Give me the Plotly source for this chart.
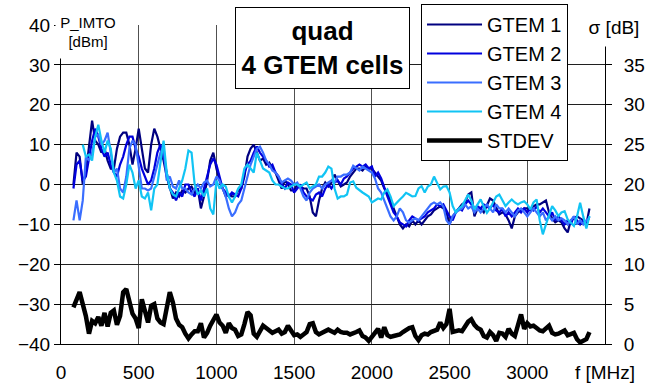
import plotly.graph_objects as go

# sample frequencies (MHz)
freq = list(range(80, 3401, 20))

gtem1 = [
    0, 8, 7, 0, 3, 10, 16, 11, 10, 8,
    9, 6, 4, 4, 9, 12, 13, 13, 10, 5,
    9, 14, 9, 4, 3, 10, 14, 12, 9, 6,
    2, -1, -3.5, -2, -3, -1.5, -2, -1, -0.5, -2,
    -1, -6, -3, 1, 6, 8, 4, 1, -1, -3,
    -2.5, -3, -3, -1.5, -1, 2, 7, 9, 10, 8,
    6, 6.5, 5, 5.5, 4, 3, 1, -1, 1, 0,
    -1.5, -1.5, 0, -0.5, -1, -1, -3, -7, -8, -4,
    -1, 0.5, -0.5, 0.5, 2.5, 1, -0.5, 0, 0.5, 2,
    3, 4, 4, 3.5, 4.5, 4, 4, 3, 2, 1,
    -1, -2, -4, -6, -8, -10, -11, -10, -10.5, -9,
    -10, -9, -10, -9, -8, -7.5, -6.5, -6, -5.5, -6,
    -7, -10, -8, -7, -6, -5, -4.5, -2.5, -2, -8,
    -6, -6, -7, -5, -3.5, -4, -6, -7.5, -7, -7.5,
    -9, -11, -8, -7, -6.5, -6, -6, -6.5, -5.5, -5,
    -5, -4.5, -4, -7, -8.5, -9.5, -9, -9.5, -11, -12,
    -9, -8.5, -8, -8.5, -9, -10, -6,
]

gtem2 = [
    -1, 5, 6, 1, 2, 7, 11, 14, 12, 9,
    7, 8, 5, 3, 2, 5, 7, 10, 12, 12,
    9, 7, 4, 2, 0, 1, 4, 8, 10, 7,
    3, -1, -2, -4, -2, -3, 0, 0, -2, -3,
    -1, -4, -1, 2, 5, 6.5, 5, 2, -1, -2,
    -3, -2, -2.5, -3, -1, 3, 5, 6, 8, 9.5,
    8, 7, 6, 4.5, 5, 3, 2, 0, -1, 0.5,
    0, -2, -1, 0, -2, -3, -3.5, -4, -2.5, -2,
    -3, -1, 0, -1, 0.5, 1, 0, 1.5, 2, 3,
    4, 4.5, 5, 4.5, 5, 4, 4.5, 2, 3, 1.5,
    -1, -3, -5, -7, -8, -9.5, -10, -10.5, -9, -8,
    -8.5, -9, -8.5, -8, -7, -6.5, -6, -5, -5.5, -5,
    -6.5, -8, -9, -7, -6, -6.5, -5, -4, -5, -6,
    -5.5, -6, -5, -5.5, -6, -5, -6.5, -7, -6, -8,
    -7, -8, -7, -6, -7, -6, -7, -6, -6.5, -5.5,
    -7, -6, -7, -8, -7, -9, -8, -9, -10, -9,
    -10, -8, -9, -10, -9, -9.5, -8,
]

gtem3 = [
    -9, -4, -9, -4, 7, 6, 8, 12, 12.5, 10,
    11, 13, 8, 3, 4, -1, -2, 2, 9, 11,
    10, 4, -1, -1, -1.5, -1, 2, 5, 8, 9.5,
    1, 2, -0.5, -1, 1, -1, -1, -2, -2.5, -1,
    0, -1, 0.5, 1, -0.5, 0, 2, 1, -1, -3,
    -6, -8, -7, -5, -4, -1, 2, 5, 7, 9,
    9.5, 8, 6, 5, 3.5, 3, 2, 0.5, 1, 1.5,
    1, 0, 0.5, -1, -3, -4, -2, -1, -0.5, 0,
    -1, 0, 0.5, 1, 0.5, 2, 2, 2.5, 2.5, 3,
    4.7, 4, 3.5, 4.5, 4, 3.5, 3, 1.5, -1, -2,
    -4, -6, -8, -9, -8, -6, -7, -9, -9.5, -9,
    -8.5, -9, -8, -7, -6, -5, -4.5, -5, -4.5, -5.5,
    -9, -10, -8, -7, -6.5, -6, -5, -6, -5.5, -7,
    -6, -7, -6, -5, -6, -7, -5, -6, -6, -7,
    -6, -7, -8, -6.5, -6, -7, -8, -7, -6, -7,
    -8, -7, -9, -8, -9, -8, -9, -8.5, -9, -10,
    -9, -8, -10, -9, -10, -9, -8.5,
]

gtem4 = [
    None, None, None, 10, 7, 7.5, 6, 12, 15, 11,
    8, 11, 9, 3, 1, -3, -3.5, 0, 5, 3,
    -1, 1, -3, -3.5, -2, -6.5, -1, 0, 6, 11,
    3, -1, -2.5, -3, -1, 1, 4, 8.5, 8, 0,
    -2.5, -1.5, -3, -1, -6, -7.5, 1, -1, 0, -0.5,
    -3, -4.5, -3, -1, 0, 4, 5, 4, 3, 8,
    6, 4, 3.5, 3, 1, 0, 0, -0.5, -1, -1,
    -0.5, 0, 0, -0.5, 0, 0.5, -1, -0.5, 0, 2,
    2, 3, 4.5, 4, -1, -3.5, -3, -3, -2.5, 0.5,
    0.8, -0.8, -1.5, -2, -2.5, -3, -4.5, -4, -3.5, -3.75,
    -2, -1.25, -3, -5.4, -4.5, -3.75, -3, -2.1, -2.5, -3,
    -2.9, -1, -0.4, -2, -0.5, 0, 2, 0.5, -1.25, -0.5,
    -0.4, -2, -5.4, -7, -6, -5.4, -4, -2.5, -4, -6.25,
    -5, -3.75, -5.5, -7.1, -6, -4.6, -3, -2.5, -4, -5.4,
    -4.5, -3.75, -4.5, -5, -4.5, -4.2, -5, -6.25, -4.5, -3.75,
    -9, -12.5, -10, -7.9, -5.4, -6.5, -7.9, -7, -6.7, -8.75,
    -9.5, -10.4, -8, -4.6, -8, -11, -7.9,
]

stdev = [
    4.6, 5.5, 6.5, 5, 3.5, 1.3, 2.9, 2.6, 3.4, 2.3,
    3.9, 2.2, 3.9, 4.2, 2.4, 3.5, 6.5, 6.9, 5, 3.8,
    3.2, 2, 5.6, 4.3, 2.7, 4.8, 5, 3.2, 2.7, 2.5,
    4.5, 6.5, 5.2, 3.2, 2.4, 2.1, 1.3, 0.7, 1.2, 1.6,
    1.6, 2.6, 0.8, 1.4, 2.3, 3, 3.7, 2.7, 2.3, 1.4,
    2.6, 2, 1.8, 1, 1.2, 2.5, 4, 3.6, 1.3, 0.9,
    1.6, 2.3, 2, 1.7, 1.4, 1.6, 1.8, 1.3, 1.5, 2.3,
    1.6, 1.1, 1.2, 0.9, 1.2, 1.5, 2.5, 2.6, 1.5, 1.2,
    1.4, 1.6, 1.8, 1.6, 1.4, 1.8, 1.5, 1.4, 1.4, 1.2,
    1.3, 1.5, 1.7, 1.0, 0.8, 0.4, 0.9, 1.5, 1.9, 0.8,
    2.1, 1.1, 0.9, 1.0, 1.1, 1.2, 1.5, 1.8, 2.0, 2.1,
    1.0, 0.5, 1.1, 1.3, 1.2, 1.5, 1.7, 1.8, 2.7, 2.0,
    2.5, 4.4, 1.5, 1.6, 1.7, 1.6, 2.2, 2.8, 3.1, 2.4,
    2.0, 1.8, 1.0, 0.8, 1.5, 1.1, 0.4, 1.4, 1.3, 0.9,
    1.9, 1.3, 1.0, 2.5, 3.7, 1.9, 2.6, 2.2, 2.3, 2.0,
    1.7, 1.6, 1.9, 2.3, 1.4, 1.2, 1.3, 1.5, 1.7, 1.1,
    1.2, 1.4, 0.6, 0.2, 0.4, 0.6, 1.5,
]

series_names = ["GTEM 1", "GTEM 2", "GTEM 3", "GTEM 4"]
series_colors = ["#000080", "#0000DD", "#3A6EFF", "#11C4F4"]

x_tickvals = [0, 500, 1000, 1500, 2000, 2500, 3000, 3500]
x_ticktext = ["0", "500", "1000", "1500", "2000", "2500", "3000", "f [MHz]"]
y_tickvals = [-40, -30, -20, -10, 0, 10, 20, 30, 40]
y2_tickvals = [0, 5, 10, 15, 20, 25, 30, 35]

for s in (gtem1, gtem2, gtem3, gtem4, stdev):
    assert len(s) == len(freq), (len(s), len(freq))

FONT = "Arial, Liberation Sans, sans-serif"

fig = go.Figure()
for name, vals, col in zip(series_names, [gtem1, gtem2, gtem3, gtem4], series_colors):
    fig.add_trace(go.Scatter(x=freq, y=vals, mode="lines", name=name,
                             line=dict(color=col, width=2.2)))
fig.add_trace(go.Scatter(x=freq, y=stdev, mode="lines", name="STDEV", yaxis="y2",
                         line=dict(color="black", width=4.5)))

fig.update_layout(
    width=659, height=387,
    margin=dict(l=61, r=54, t=25, b=43, autoexpand=False),
    paper_bgcolor="white", plot_bgcolor="white",
    font=dict(family=FONT, color="black", size=19),
    showlegend=True,
    legend=dict(x=0.6618, y=1.0658, xanchor="left", yanchor="top",
                bgcolor="white", bordercolor="black", borderwidth=1,
                font=dict(size=20), tracegroupgap=0, itemwidth=55),
    xaxis=dict(range=[0, 3500], tickvals=x_tickvals, ticktext=x_ticktext,
               showgrid=True, gridcolor="#505050", gridwidth=1,
               showline=True, linecolor="black", linewidth=1,
               ticks="", zeroline=False, tickfont=dict(size=19),
               ticklabelstandoff=11),
    yaxis=dict(range=[-40, 40], tickvals=y_tickvals,
               showgrid=True, gridcolor="#202020", gridwidth=1,
               showline=True, linecolor="black", linewidth=1,
               ticks="outside", ticklen=6, tickcolor="black",
               zeroline=False, tickfont=dict(size=19)),
    yaxis2=dict(range=[0, 40], tickvals=y2_tickvals, overlaying="y", side="right",
                showgrid=False, showline=True, linecolor="black", linewidth=1,
                ticks="outside", ticklen=6, tickcolor="black",
                zeroline=False, tickfont=dict(size=19), ticklabelstandoff=8),
    annotations=[
        dict(text="<b>quad</b><br><b>4 GTEM cells</b>", xref="paper", yref="paper",
             x=0.4807, y=0.928, xanchor="center", yanchor="middle", showarrow=False,
             font=dict(size=26), bgcolor="white", bordercolor="black", borderwidth=1,
             borderpad=0, width=173, height=80),
        dict(text="P_IMTO<br>[dBm]", xref="paper", yref="paper",
             x=0.0496, y=0.978, xanchor="center", yanchor="middle", showarrow=False,
             font=dict(size=15), bgcolor="white", borderpad=0, width=64, height=52),
        dict(text="σ [dB]", xref="paper", yref="paper",
             x=1.0165, y=0.995, xanchor="center", yanchor="middle", showarrow=False,
             font=dict(size=19), bgcolor="white", borderpad=0, width=64, height=38),
    ],
)

fig.write_html("out.html", config={"displayModeBar": False},
               post_script="document.body.style.margin='0px';")
